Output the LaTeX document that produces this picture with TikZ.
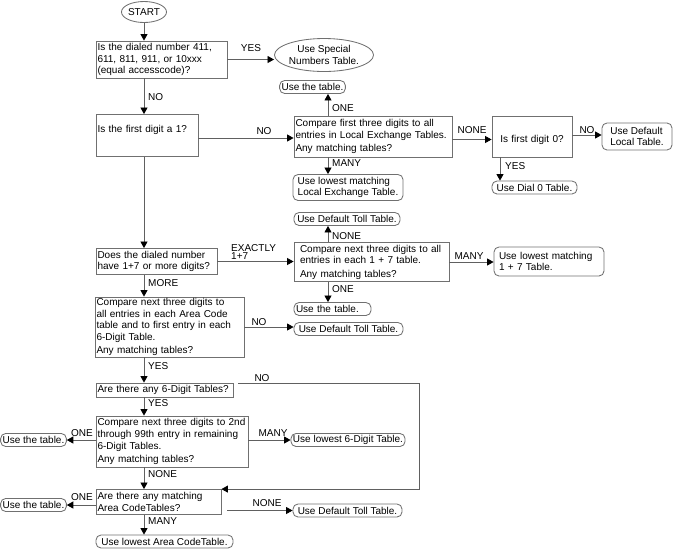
\documentclass[tikz,border=0pt]{standalone}
\usepackage{fontspec}
\setmainfont{Liberation Sans}
\usetikzlibrary{arrows.meta,shapes.geometric}
\definecolor{bordergray}{HTML}{707070}
\definecolor{linegray}{HTML}{606060}
\newcommand{\fnt}{\fontsize{10}{11.7}\selectfont\hyphenpenalty=10000\exhyphenpenalty=10000}
\begin{document}
\begin{tikzpicture}[x=1pt,y=-1pt,
  box/.style={draw=bordergray, line width=0.85pt, rectangle, inner xsep=1.5pt, inner ysep=0pt, align=left, font=\fnt},
  rbox/.style={box, rounded corners=5pt, inner xsep=2pt},
  oval/.style={draw=bordergray, line width=0.85pt, ellipse, inner sep=0pt, align=center, font=\fnt},
  arr/.style={draw=linegray, line width=0.8pt, -{Triangle[length=6.5pt,width=7pt,color=black]}},
  lbl/.style={font=\fnt, inner sep=0pt, align=left}]
\useasboundingbox (0,0) rectangle (676,550);
\coordinate (spine) at (144,0);
\coordinate (loopc) at (419,0);

% nodes
\node[oval, minimum width=41pt, minimum height=21pt] (start) at (144,12) {START};
\node[box, minimum height=37pt, text width=128pt] (q1) at (161.5,59.5) {Is the dialed number 411,\\611, 811, 911, or 10xxx\\(equal accesscode)?};
\node[oval, minimum width=84pt, minimum height=33pt] (special) at (324,55) {Use Special\\Numbers Table.};
\node[box, minimum height=42pt, text width=99pt] (q2) at (147,135.5) {\rule[-14pt]{0pt}{22pt}Is the first digit a 1?};
\node[box, minimum height=41pt, text width=155pt] (loc) at (373,136.5) {Compare first three digits to all\\entries in Local Exchange Tables.\\[1.5pt]Any matching tables?};
\node[rbox, minimum width=65pt, minimum height=13pt] (usetab1) at (312.5,87) {Use the table.};
\node[rbox, minimum width=110pt, minimum height=26pt] (lowloc) at (348,187.5) {Use lowest matching\\Local Exchange Table.};
\node[box, minimum height=41pt, text width=77pt, align=center] (d0) at (532,136.5) {\rule[-2pt]{0pt}{17pt}Is first digit 0?};
\node[rbox, minimum width=70pt, minimum height=27pt] (deflocal) at (637,136.5) {Use Default\\Local Table.};
\node[rbox, minimum width=85pt, minimum height=13pt] (dial0) at (534.5,187.5) {Use Dial 0 Table.};

\node[rbox, minimum width=106pt, minimum height=13pt] (deftoll1) at (347,219) {Use Default Toll Table.};
\node[box, minimum height=26pt, text width=118pt] (q3) at (156.5,261.5) {Does the dialed number\\have 1+7 or more digits?};
\node[box, minimum height=39pt, inner xsep=6pt, text width=143pt] (t17) at (371.5,262) {Compare next three digits to all\\entries in each 1 + 7 table.\\[1.5pt]Any matching tables?};
\node[rbox, minimum height=29pt, inner xsep=5pt, text width=100pt] (low17) at (549,261.5) {Use lowest matching\\1 + 7 Table.};
\node[rbox, minimum height=13pt, text width=73pt] (usetab2) at (332.5,309) {Use the table.};
\node[rbox, minimum width=109pt, minimum height=13pt] (deftoll2) at (348.5,329) {Use Default Toll Table.};
\node[box, minimum height=60pt, text width=146pt] (ac) at (169.5,327) {Compare next three digits to\\all entries in each Area Code\\table and to first entry in each\\6-Digit Table.\\[1.5pt]Any matching tables?};

\node[box, minimum height=14pt, text width=134pt] (six) at (164.5,390) {Are there any 6-Digit Tables?};
\node[box, minimum height=51pt, text width=149pt] (c6) at (172,441.5) {Compare next three digits to 2nd\\through 99th entry in remaining\\6-Digit Tables.\\[1.5pt]Any matching tables?};
\node[rbox, minimum width=65pt, minimum height=13pt] (usetab3) at (33.5,440) {Use the table.};
\node[rbox, minimum width=110pt, minimum height=13pt] (low6) at (348,440) {Use lowest 6-Digit Table.};
\node[box, minimum height=25pt, text width=122pt] (am) at (158.5,502) {Are there any matching\\Area CodeTables?};
\node[rbox, minimum width=65pt, minimum height=13pt] (usetab4) at (33.5,505) {Use the table.};
\node[rbox, minimum width=109pt, minimum height=13pt] (deftoll3) at (347.5,510.5) {Use Default Toll Table.};
\node[rbox, minimum width=137pt, minimum height=13pt] (lowac) at (164.5,541.5) {Use lowest Area CodeTable.};

% helper coordinates
\coordinate (locx) at ([xshift=-45pt]loc.north);
\coordinate (locy) at ([xshift=-45pt]loc.south);
\coordinate (t17x) at ([xshift=-43.5pt]t17.north);
\coordinate (t17y) at ([xshift=-43.5pt]t17.south);
\coordinate (d0x) at ([xshift=-32pt]d0.south);
\coordinate (sixr) at ([xshift=5pt,yshift=-1pt]six.north east);
\coordinate (amr) at ([xshift=6pt]am.east |- deftoll3.west);

% connectors
\draw[arr] (start.south) -- (start.south |- q1.north);
\draw[arr] (q1.east) -- (q1.east -| special.west);
\draw[arr] (spine |- q1.south) -- (spine |- q2.north);
\draw[arr] ([yshift=-2.5pt]q2.east) -- ([yshift=-2.5pt]q2.east -| loc.west);
\draw[arr] (locx) -- (locx |- usetab1.south);
\draw[arr] (locy) -- (locy |- lowloc.north);
\draw[arr] ([yshift=-3pt]loc.east) -- ([yshift=-3pt]d0.west);
\draw[arr] ([yshift=1.5pt]d0.east) -- ([yshift=1.5pt]deflocal.west);
\draw[arr] (d0x) -- (d0x |- dial0.north);

\draw[arr] (spine |- q2.south) -- (spine |- q3.north);
\draw[arr] (q3.east) -- (q3.east -| t17.west);
\draw[arr] (t17x) -- (t17x |- deftoll1.south);
\draw[arr] (t17.east) -- (t17.east -| low17.west);
\draw[arr] (t17y) -- (t17y |- usetab2.north);
\draw[arr] (spine |- q3.south) -- (spine |- ac.north);
\draw[arr] (ac.east) -- (ac.east -| deftoll2.west);
\draw[arr] (spine |- ac.south) -- (spine |- six.north);

\draw[arr] (sixr) -| (loopc |- am.north east) -- (am.north east);
\draw[arr] (spine |- six.south) -- (spine |- c6.north);
\draw[arr] ([yshift=1.5pt]c6.west) -- ([yshift=1.5pt]c6.west -| usetab3.east);
\draw[arr] ([yshift=1.5pt]c6.east) -- ([yshift=1.5pt]c6.east -| low6.west);
\draw[arr] (spine |- c6.south) -- (spine |- am.north);
\draw[arr] (am.west |- usetab4.east) -- (usetab4.east);
\draw[arr] (amr) -- (deftoll3.west);
\draw[arr] (spine |- am.south) -- (spine |- lowac.north);

% labels
\node[lbl] (l1) at (251,48) {YES};
\node[lbl, anchor=west] (l2) at (148,97) {NO};
\node[lbl] (l3) at (264,131) {NO};
\node[lbl, anchor=west] (l4) at (332,108) {ONE};
\node[lbl, anchor=west] (l5) at (332,163) {MANY};
\node[lbl] (l6) at (472,130) {NONE};
\node[lbl] (l7) at (587,130) {NO};
\node[lbl, anchor=west] (l8) at (505,166) {YES};
\node[lbl, anchor=west] (l9) at (332,236) {NONE};
\node[lbl, anchor=west, font=\fontsize{10}{8.5}\selectfont] (l10) at (231,252) {EXACTLY\\1+7};
\node[lbl] (l11) at (469,256) {MANY};
\node[lbl, anchor=west] (l12) at (332,289) {ONE};
\node[lbl, anchor=west] (l13) at (148,283) {MORE};
\node[lbl] (l14) at (259,322) {NO};
\node[lbl, anchor=west] (l15) at (148,366) {YES};
\node[lbl] (l16) at (262,378) {NO};
\node[lbl, anchor=west] (l17) at (148,403) {YES};
\node[lbl] (l18) at (82,433) {ONE};
\node[lbl] (l19) at (273,433) {MANY};
\node[lbl, anchor=west] (l20) at (148,474) {NONE};
\node[lbl] (l21) at (82,497) {ONE};
\node[lbl] (l22) at (267,503) {NONE};
\node[lbl, anchor=west] (l23) at (148,521) {MANY};
\end{tikzpicture}
\end{document}
